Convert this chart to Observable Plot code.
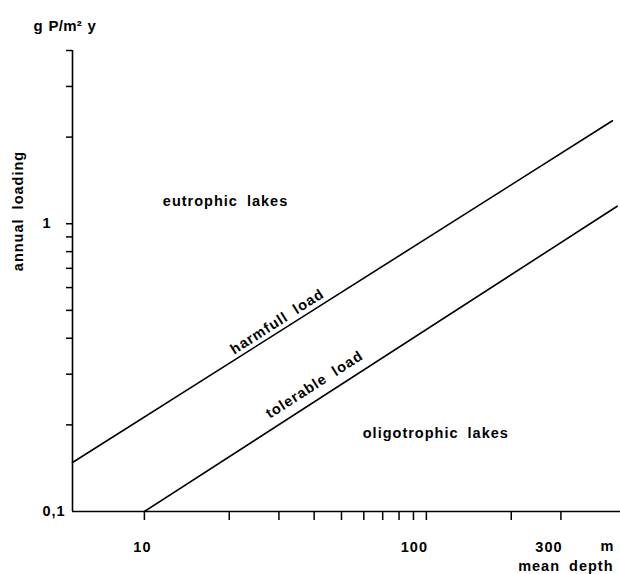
<!DOCTYPE html>
<html><head><meta charset="utf-8">
<script src="https://cdn.jsdelivr.net/npm/d3@7"></script>
<script src="https://cdn.jsdelivr.net/npm/@observablehq/plot@0.6"></script>
<style>
body{margin:0;background:#fff;}
svg text{letter-spacing:1px;word-spacing:4px;}
svg g.unit-title text{letter-spacing:0.3px;word-spacing:1px;}
</style></head><body><div id="chart"></div>
<script>
// Data (log-log Vollenweider-type loading diagram)
const depthDomain = [5.56, 488];
const loadDomain = [0.1, 4];
const harmfulDepth = [5.56, 457];
const harmfulLoad = [0.148, 2.28];
const tolerableDepth = [10, 475];
const tolerableLoad = [0.1, 1.15];
const xTicks = [10, 20, 30, 40, 50, 60, 70, 80, 90, 100, 200, 300];
const yTicks = [0.2, 0.3, 0.4, 0.5, 0.6, 0.7, 0.8, 0.9, 1, 2, 3, 4];
const xLabelValues = [10, 100, 300];
const xLabelTexts = ["10", "100", "300"];
const yLabelValues = [0.1, 1];
const yLabelTexts = ["0,1", "1"];
const regionNames = ["eutrophic lakes", "oligotrophic lakes"];
const regionDepth = [19.4, 108];
const regionLoad = [1.2, 0.187];
const lineNames = ["harmfull load", "tolerable load"];
const lineLabelDepth = [29.6, 40.1];
const lineLabelLoad = [0.457, 0.276];

const harmful = harmfulDepth.map((d, i) => ({depth: d, load: harmfulLoad[i]}));
const tolerable = tolerableDepth.map((d, i) => ({depth: d, load: tolerableLoad[i]}));
const regions = regionNames.map((n, i) => ({name: n, depth: regionDepth[i], load: regionLoad[i]}));
const lineLabels = lineNames.map((n, i) => ({name: n, depth: lineLabelDepth[i], load: lineLabelLoad[i]}));
const xLabels = xLabelValues.map((v, i) => ({v, t: xLabelTexts[i]}));
const yLabels = yLabelValues.map((v, i) => ({v, t: yLabelTexts[i]}));

const chart = Plot.plot({
  width: 620, height: 574,
  marginLeft: 72, marginRight: 0, marginTop: 50, marginBottom: 63,
  x: {type: "log", domain: depthDomain},
  y: {type: "log", domain: loadDomain},
  style: {fontFamily: "'Liberation Sans', Arial, sans-serif", fontSize: "14.5px", fontWeight: "bold", background: "white", color: "black"},
  marks: [
    Plot.axisX(xTicks, {tickSize: 9, tickFormat: () => "", label: null, strokeWidth: 1.5}),
    Plot.axisY(yTicks, {tickSize: 6, tickFormat: () => "", label: null, strokeWidth: 1.5}),
    Plot.ruleX([depthDomain[0]], {strokeWidth: 1.6}),
    Plot.ruleY([loadDomain[0]], {strokeWidth: 1.6}),
    Plot.line(harmful, {x: "depth", y: "load", strokeWidth: 1.6}),
    Plot.line(tolerable, {x: "depth", y: "load", strokeWidth: 1.6}),
    Plot.text(xLabels.slice(0, 1), {x: "v", text: "t", frameAnchor: "bottom", dy: 40, dx: -2}),
    Plot.text(xLabels.slice(1), {x: "v", text: "t", frameAnchor: "bottom", dy: 40, dx: -12}),
    Plot.text(yLabels, {y: "v", text: "t", frameAnchor: "left", textAnchor: "start", dx: -30}),
    Plot.text(regions, {x: "depth", y: "load", text: "name"}),
    Plot.text(lineLabels, {x: "depth", y: "load", text: "name", rotate: -32.7}),
    Plot.text(["m"], {frameAnchor: "bottom-right", dx: -6, dy: 39}),
    Plot.text(["mean depth"], {frameAnchor: "bottom-right", textAnchor: "end", dx: -7, dy: 59}),
    Plot.text(["annual loading"], {frameAnchor: "left", textAnchor: "middle", rotate: -90, dx: -54, dy: -70}),
    Plot.text(["g P/m² y"], {frameAnchor: "top-left", textAnchor: "start", dx: -39, dy: -30, fontSize: 15, className: "unit-title"})
  ]
});
document.getElementById("chart").append(chart);
</script></body></html>
